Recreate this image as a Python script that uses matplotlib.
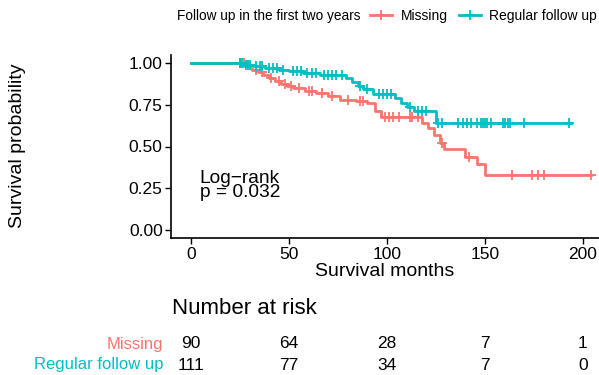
import matplotlib.pyplot as plt
from matplotlib.lines import Line2D
import numpy as np

plt.rcParams['font.family'] = ['Liberation Sans', 'DejaVu Sans']

red = '#F8766D'
teal = '#00BFC4'

# Missing - ступенчатая кривая
miss_t = [0, 28, 31, 34, 37, 40, 43, 46, 49, 52, 58, 64, 70, 76, 84, 90, 94, 97,
          118, 121, 124, 127, 129, 140, 146, 150, 204]
miss_s = [1.0, 0.98, 0.96, 0.945, 0.93, 0.91, 0.89, 0.875, 0.86, 0.85, 0.835, 0.82,
          0.80, 0.78, 0.77, 0.76, 0.71, 0.675, 0.64, 0.61, 0.57, 0.52, 0.485, 0.44,
          0.395, 0.33, 0.33]
miss_cens = [25, 27, 33, 36, 41, 45, 48, 51, 55, 60, 62, 67, 72, 80, 86, 88, 99, 101,
             103, 106, 112, 113, 116, 128, 142, 164, 174, 177, 180, 204]

# Regular follow up
reg_t = [0, 27, 32, 38, 45, 50, 57, 66, 79, 82, 85, 88, 93, 104, 107, 110, 114, 125, 194]
reg_s = [1.0, 0.99, 0.98, 0.97, 0.96, 0.95, 0.94, 0.925, 0.91, 0.885, 0.865, 0.845,
         0.815, 0.79, 0.76, 0.735, 0.71, 0.64, 0.64]
reg_cens = [25, 26, 28, 29, 30, 33, 35, 36, 40, 42, 44, 47, 52, 54, 56, 59, 62, 64, 68,
            70, 72, 74, 77, 86, 90, 96, 98, 100, 102, 112, 116, 118, 120, 126, 128, 136,
            139, 141, 143, 146, 148, 149, 150, 151, 153, 159, 160, 162, 163, 170, 193]

risk_times = [0, 50, 100, 150, 200]
risk_miss = [90, 64, 28, 7, 1]
risk_reg = [111, 77, 34, 7, 0]


def surv_at(t, ts, ss):
    i = np.searchsorted(ts, t, side='right') - 1
    return ss[i]


fig = plt.figure(figsize=(5.99, 3.75), dpi=100)
ax = fig.add_axes([171 / 599, (375 - 238.4) / 375, (599 - 171) / 599, (238.4 - 54.6) / 375])

for ts, ss, cs, col, lab in [(miss_t, miss_s, miss_cens, red, 'Missing'),
                             (reg_t, reg_s, reg_cens, teal, 'Regular follow up')]:
    ax.step(ts, ss, where='post', color=col, lw=2, label=lab)
    cy = [surv_at(c, ts, ss) for c in cs]
    ax.plot(cs, cy, ls='none', marker='+', ms=7, mew=1.3, color=col)

ax.set_xlim(-10.2, 208.2)
ax.set_ylim(-0.05, 1.05)
ax.set_xticks(risk_times)
ax.set_yticks([0, 0.25, 0.5, 0.75, 1.0])
ax.set_yticklabels(['0.00', '0.25', '0.50', '0.75', '1.00'])
ax.tick_params(labelsize=12.5, colors='black', length=4, width=1, pad=2)
for s in ['top', 'right']:
    ax.spines[s].set_visible(False)
for s in ['left', 'bottom']:
    ax.spines[s].set_linewidth(1.2)
ax.set_xlabel('Survival months', fontsize=14, labelpad=1)
fig.text(18 / 599, 1 - 146 / 375, 'Survival probability', fontsize=14, rotation=90,
         va='center', ha='center')

ax.text(4.5, 0.265, 'Log\u2212rank\np = 0.032', fontsize=13.8, va='center', ha='left',
        linespacing=0.8)

handles = [Line2D([], [], color=red, lw=2, marker='+', ms=7, mew=1.3),
           Line2D([], [], color=teal, lw=2, marker='+', ms=7, mew=1.3)]
fig.text(177 / 599, 1 - 16 / 375, 'Follow up in the first two years', fontsize=9.8,
         va='center', ha='left')
fig.legend(handles, ['Missing', 'Regular follow up'], loc='center left',
           bbox_to_anchor=(370 / 599, 1 - 16 / 375),
           ncol=2, frameon=False, fontsize=10, handlelength=1.6, handletextpad=0.6,
           columnspacing=0.8, borderaxespad=0, borderpad=0)

# таблица числа под риском
fig.text(172 / 599, 1 - 309 / 375, 'Number at risk', fontsize=16, va='center', ha='left')
for vals, y, col, lab in [(risk_miss, 1 - 344 / 375, red, 'Missing'),
                          (risk_reg, 1 - 365 / 375, teal, 'Regular follow up')]:
    fig.text(163 / 599, y, lab, fontsize=12, color=col, va='center', ha='right')
    for t, v in zip(risk_times, vals):
        ax.annotate(str(v), xy=(t, y), xycoords=('data', 'figure fraction'),
                    fontsize=12.5, va='center', ha='center', annotation_clip=False)

fig.savefig('out.png', dpi=100)
